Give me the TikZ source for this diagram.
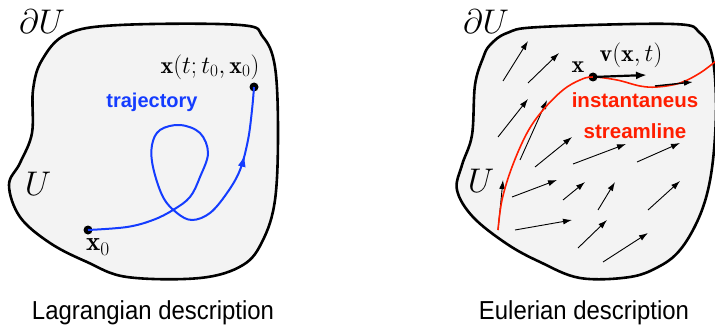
\documentclass[tikz,border=0pt]{standalone}
\usepackage{graphicx}
\usepackage{fontspec}
\setsansfont{Liberation Sans}
\newfontfamily\capfont[FakeStretch=0.92]{Liberation Sans}
\usetikzlibrary{arrows.meta,decorations.markings}
\definecolor{blobfill}{RGB}{243,243,243}
\definecolor{trajblue}{RGB}{20,60,255}
\definecolor{strred}{RGB}{255,30,0}
\newcommand{\bigmath}[1]{\scalebox{1.375}{$#1$}}
\begin{document}
\begin{tikzpicture}[x=1pt,y=-1pt,
  blob/.style={draw=black,line width=2.6pt,fill=blobfill},
  dotnode/.style={circle,fill=black,inner sep=0pt,minimum size=9pt},
  mathlbl/.style={inner sep=0pt,font=\fontsize{24}{28}\selectfont},
  biglbl/.style={inner sep=0pt,font=\fontsize{24}{28}\selectfont},
  redlbl/.style={inner sep=0pt,text=strred,font=\sffamily\bfseries\fontsize{20.5}{24}\selectfont},
  caption/.style={inner sep=0pt,font=\capfont\fontsize{26}{30}\selectfont},
  traj/.style={draw=trajblue,line width=2pt,
    postaction={decorate},
    decoration={markings,mark=at position 0.86 with {\arrow{Latex[length=12pt,width=8pt]}}}},
  stream/.style={draw=strred,line width=1.6pt},
  vec/.style={draw=black,line width=0.9pt,-{Latex[length=9pt,width=6pt]}},
  bigvec/.style={draw=black,line width=2.2pt,-{Latex[length=11pt,width=8pt]}}
]
\useasboundingbox (0,0) rectangle (715,329);

% ---------------- Lagrangian blob ----------------
\path[blob] plot[smooth cycle,tension=0.6] coordinates {
  (42,60) (67,34) (120,25) (240,25) (263,37) (275,67) (278,133) (275,200)
  (263,240) (243,265) (200,278) (127,277) (87,262) (50,243) (20,217)
  (9,185) (20,163) (32,133) (33,90)};

\node[biglbl] (dUl) at (42,22) {\bigmath{\partial U}};
\node[biglbl] (Ul) at (38,184) {\bigmath{U}};

\node[dotnode] (x0) at (88,230) {};
\node[dotnode] (xt) at (254,87) {};
\node[mathlbl] (x0lbl) at (98,247) {\scalebox{1.12}{$\mathbf{x}_0$}};
\node[mathlbl] (xtlbl) at (210,67) {$\mathbf{x}(t;t_0,\mathbf{x}_0)$};
\node[inner sep=0pt,text=trajblue,font=\sffamily\bfseries\fontsize{20}{24}\selectfont] (trajlbl) at (152,102) {trajectory};

\draw[traj] plot[smooth,tension=0.6] coordinates {
  (x0.center) (127,227) (153,220) (173,210) (190,197) (200,177) (208,153)
  (200,133) (180,125) (160,130) (152,145) (153,167) (163,197) (177,213)
  (192,220) (210,213) (227,193) (240,170) (248,140) (252,110) (xt.center)};

\node[caption,anchor=base] (lcap) at (153,319) {Lagrangian description};

% ---------------- Eulerian blob ----------------
\path[blob] plot[smooth cycle,tension=0.6] coordinates {
  (490,45) (507,33) (540,27) (673,24) (700,33) (712,55) (716,100) (714,150)
  (708,190) (697,222) (680,250) (660,266) (630,277) (580,278) (540,262)
  (507,244) (473,217) (457,190) (462,165) (472,135) (475,85) (483,58)};

\node[biglbl] (dUr) at (486,22) {\bigmath{\partial U}};
\node[biglbl] (Ur) at (481,181) {\bigmath{U}};

% vector field
\foreach \a/\b in {
  {(503,81)}/{(528,41)}, {(528,83)}/{(559,53)}, {(498,137)}/{(528,99)},
  {(520,160)}/{(547,100)}, {(535,167)}/{(572,137)}, {(573,164)}/{(626,144)},
  {(637,162)}/{(680,143)}, {(498,230)}/{(503,180)}, {(512,197)}/{(557,180)},
  {(563,200)}/{(585,182)}, {(598,210)}/{(615,182)}, {(648,210)}/{(680,181)},
  {(515,230)}/{(572,220)}, {(578,248)}/{(607,220)}, {(603,262)}/{(648,233)}}
  \draw[vec] \a -- \b;

\node[dotnode] (xe) at (593,77) {};
\coordinate (vtip) at (647,75);
\draw[stream] plot[smooth,tension=0.6] coordinates {
  (498,230) (502,200) (512,167) (527,133) (543,110) (563,90) (580,80)
  (xe.center) (617,80) (640,86) (657,87) (680,83) (700,73) (716,61)};
\draw[vec,line width=1.4pt] (655,86) -- (693,82);
\draw[bigvec] (xe.center) -- (vtip);

\node[mathlbl] (xelbl) at (578,67) {$\mathbf{x}$};
\node[mathlbl] (vlbl) at (631,55) {$\mathbf{v}(\mathbf{x},t)$};
\node[redlbl] (inst) at (635,100) {instantaneus};
\node[redlbl] (strm) at (635,131) {streamline};

\node[caption,anchor=base] (ecap) at (584,319) {Eulerian description};
\end{tikzpicture}
\end{document}
